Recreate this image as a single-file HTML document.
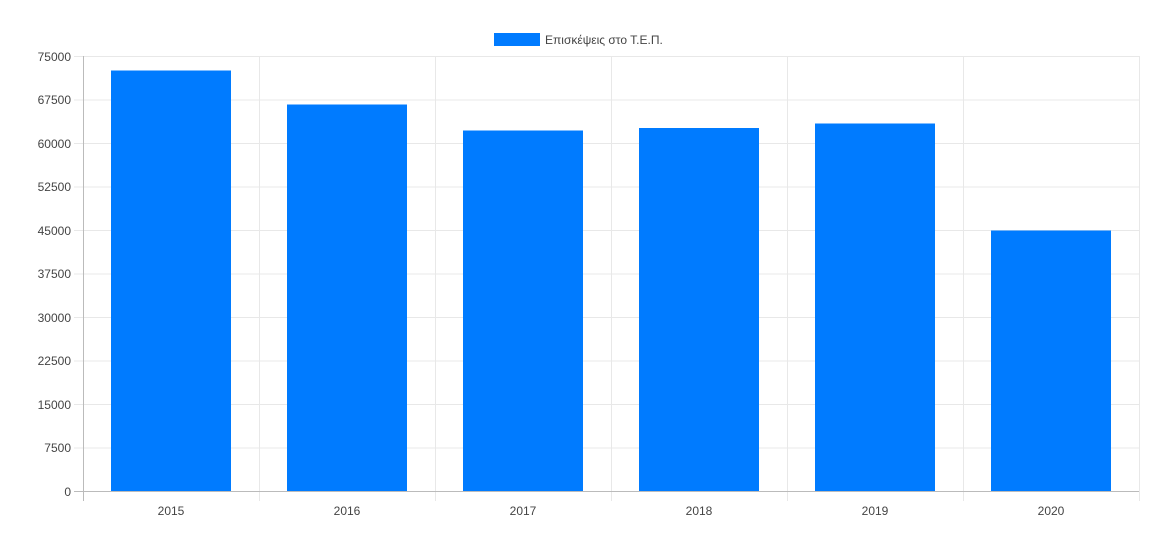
<!DOCTYPE html><html><head><meta charset="utf-8"><style>body{margin:0;background:#fff}svg{display:block;font-family:"Liberation Sans",sans-serif}</style></head><body>
<svg width="1171" height="541" viewBox="0 0 1171 541">
<rect x="494" y="33" width="46" height="13" fill="#007bff"/>
<text x="545" y="44" font-size="12" fill="#444">Επισκέψεις στο Τ.Ε.Π.</text>
<g stroke="#e8e8e8" stroke-width="1">
<line x1="74" y1="56.5" x2="1139" y2="56.5"/><line x1="74" y1="100" x2="1139" y2="100"/><line x1="74" y1="143.5" x2="1139" y2="143.5"/><line x1="74" y1="187" x2="1139" y2="187"/><line x1="74" y1="230.5" x2="1139" y2="230.5"/><line x1="74" y1="274" x2="1139" y2="274"/><line x1="74" y1="317.5" x2="1139" y2="317.5"/><line x1="74" y1="361" x2="1139" y2="361"/><line x1="74" y1="404.5" x2="1139" y2="404.5"/><line x1="74" y1="448" x2="1139" y2="448"/>
<line x1="259.5" y1="56" x2="259.5" y2="501"/><line x1="435.5" y1="56" x2="435.5" y2="501"/><line x1="611.5" y1="56" x2="611.5" y2="501"/><line x1="787.5" y1="56" x2="787.5" y2="501"/><line x1="963.5" y1="56" x2="963.5" y2="501"/><line x1="1139.5" y1="56" x2="1139.5" y2="501"/>
</g>
<g fill="#007bff">
<rect x="111" y="70.5" width="120" height="421"/><rect x="287" y="104.5" width="120" height="387"/><rect x="463" y="130.5" width="120" height="361"/><rect x="639" y="128" width="120" height="363.5"/><rect x="815" y="123.5" width="120" height="368"/><rect x="991" y="230.5" width="120" height="261"/>
</g>
<line x1="83.5" y1="56" x2="83.5" y2="501" stroke="#bbb"/>
<line x1="74" y1="491.5" x2="1139" y2="491.5" stroke="#bbb"/>
<g font-size="12" fill="#444" text-anchor="end">
<text x="71" y="61">75000</text><text x="71" y="104">67500</text><text x="71" y="148">60000</text><text x="71" y="191">52500</text><text x="71" y="235">45000</text><text x="71" y="278">37500</text><text x="71" y="322">30000</text><text x="71" y="365">22500</text><text x="71" y="409">15000</text><text x="71" y="452">7500</text><text x="71" y="496">0</text>
</g>
<g font-size="12" fill="#444" text-anchor="middle">
<text x="171" y="515">2015</text><text x="347" y="515">2016</text><text x="523" y="515">2017</text><text x="699" y="515">2018</text><text x="875" y="515">2019</text><text x="1051" y="515">2020</text>
</g>
</svg></body></html>
